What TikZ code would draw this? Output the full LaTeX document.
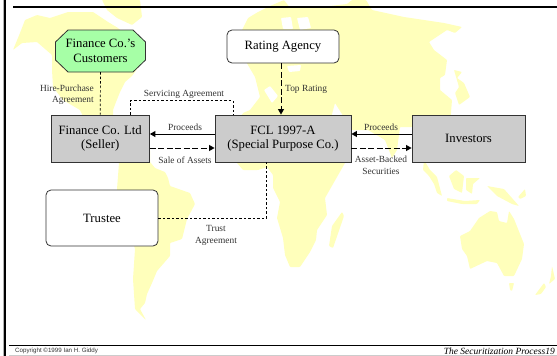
\documentclass[tikz,border=0pt]{standalone}
\usepackage{fontspec}
\setmainfont{Liberation Serif}
\setsansfont{Liberation Sans}
\usepackage{tikz}
\usetikzlibrary{positioning}
\usetikzlibrary{arrows.meta}
\definecolor{landyellow}{HTML}{FFFFBB}
\definecolor{boxgray}{HTML}{CCCCCC}
\definecolor{custgreen}{HTML}{A6FFA6}
\definecolor{edgegray}{HTML}{333333}
\tikzset{
	land/.style={fill=landyellow, draw=none, rounded corners=0.8pt},
	sea/.style={fill=white, draw=none, rounded corners=0.8pt},
	partybox/.style={draw=edgegray, fill=boxgray, line width=0.9pt, minimum height=47pt, align=center, font=\fontsize{12.7}{14.5}\selectfont, inner sep=0pt},
	softbox/.style={draw=edgegray, fill=white, line width=0.8pt, rounded corners=5pt, align=center, font=\fontsize{12.7}{14.5}\selectfont, inner sep=0pt},
	custbox/.style={minimum width=90pt, minimum height=42pt, align=center, font=\fontsize{12.7}{15}\selectfont, inner sep=0pt},
	lbl/.style={font=\fontsize{9.4}{11.5}\selectfont, text=edgegray, align=center, inner sep=0pt},
	paid/.style={-{Triangle[length=5.5pt,width=6pt]}, line width=0.9pt},
	promise/.style={-{Triangle[length=5.5pt,width=6pt]}, line width=0.9pt, dash pattern=on 6pt off 2.5pt},
	tie/.style={line width=0.7pt, dash pattern=on 2.5pt off 2pt},
}
\begin{document}
\begin{tikzpicture}[x=1pt, y=-1pt]
	\useasboundingbox (0, 0) rectangle (557, 356);
	\fill[white] (0, 0) rectangle (557, 356);
	\fill[land] (13,50) -- (20,33) -- (25,20) -- (37,15) -- (50,18) -- (68,12) -- (93,12) -- (108,22) -- (118,28) -- (130,40) -- (146,50) -- (140,65) -- (132,76) -- (125,82) -- (120,92) -- (116,102) -- (113,110) -- (113,125) -- (87,125) -- (80,110) -- (63,100) -- (53,87) -- (52,70) -- (52,55) -- (37,42) -- (22,43) -- cycle;
	\fill[land] (102,0) -- (140,0) -- (142,17) -- (132,25) -- (117,18) -- (107,10) -- cycle;
	\fill[land] (120,150) -- (150,150) -- (150,162) -- (155,168) -- (165,172) -- (168,178) -- (170,186) -- (190,193) -- (195,204) -- (187,219) -- (182,239) -- (170,243) -- (170,256) -- (157,271) -- (152,283) -- (147,294) -- (145,303) -- (140,309) -- (146,320) -- (135,309) -- (133,279) -- (135,249) -- (117,189) -- cycle;
	\fill[land] (242,30) -- (248,18) -- (258,12) -- (270,6) -- (284,0) -- (290,8) -- (330,6) -- (347,4) -- (352,0) -- (366,0) -- (372,10) -- (404,17) -- (444,23) -- (462,27) -- (455,33) -- (447,30) -- (429,42) -- (434,50) -- (447,60) -- (445,75) -- (440,78) -- (440,90) -- (452,100) -- (450,125) -- (412,127) -- (400,127) -- (397,150) -- (392,158) -- (385,140) -- (368,130) -- (352,130) -- (335,103) -- (331,118) -- (350,140) -- (345,163) -- (325,198) -- (327,215) -- (317,230) -- (316,240) -- (310,252) -- (300,267) -- (290,267) -- (285,255) -- (283,238) -- (277,218) -- (280,202) -- (273,188) -- (273,175) -- (267,167) -- (258,170) -- (243,170) -- (237,163) -- (225,140) -- (243,113) -- (250,110) -- (260,97) -- (255,77) -- (245,60) -- cycle;
	\fill[sea] (264,90) -- (270,86) -- (278,96) -- (272,103) -- cycle;
	\fill[sea] (297,18) -- (308,17) -- (311,28) -- (300,30) -- cycle;
	\fill[sea] (281,18) -- (291,17) -- (293,29) -- (283,29) -- cycle;
	\fill[sea] (287,66) -- (301,65) -- (300,71) -- (289,72) -- cycle;
	\fill[land] (454,70) -- (462,72) -- (457,78) -- (464,83) -- (470,97) -- (459,105) -- (455,93) -- (459,87) -- cycle;
	\fill[land] (424,160) -- (430,170) -- (437,177) -- (442,196) -- (437,193) -- (434,184) -- (429,176) -- (423,170) -- cycle;
	\fill[land] (449,176) -- (456,170) -- (464,176) -- (462,193) -- (454,189) -- cycle;
	\fill[land] (466,178) -- (480,178) -- (473,184) -- (472,194) -- (466,190) -- cycle;
	\fill[land] (447,198) -- (465,201) -- (480,200) -- (477,204) -- (462,204) -- (447,201) -- cycle;
	\fill[land] (487,186) -- (504,189) -- (519,206) -- (512,204) -- (497,196) -- cycle;
	\fill[land] (518,197) -- (525,189) -- (526,196) -- (520,199) -- cycle;
	\fill[land] (342,212) -- (344,216) -- (333,248) -- (329,246) -- (332,226) -- cycle;
	\fill[land] (460,236) -- (470,231) -- (479,218) -- (490,211) -- (497,212) -- (499,221) -- (507,223) -- (509,211) -- (514,219) -- (524,244) -- (522,259) -- (514,276) -- (504,276) -- (497,263) -- (487,261) -- (470,269) -- (467,256) -- (462,249) -- cycle;
	\fill[land] (509,283) -- (514,283) -- (512,291) -- (510,290) -- cycle;
	\fill[land] (552,266) -- (555,279) -- (549,284) -- (551,276) -- cycle;
	\fill[land] (535,295) -- (544,283) -- (546,287) -- (541,294) -- cycle;
	\draw[line width=2pt] (5, 0) -- (5, 356);
	\draw[gray!60, line width=1pt] (3.5, 0) -- (3.5, 356);
	\draw[line width=2pt] (13, 6.5) -- (557, 6.5);
	\draw[line width=0.9pt] (9, 345) -- (557, 345);
	\draw[gray!40, line width=0.8pt] (9, 355) -- (557, 355);

	\filldraw[fill=custgreen, draw=edgegray, line width=0.8pt] (68, 30) -- (133, 30) -- (145.5, 42) -- (145.5, 60) -- (133, 72) -- (68, 72) -- (55.5, 60) -- (55.5, 42) -- cycle;
	\node[custbox] (customers) at (100.5, 51) {Finance Co.'s\\Customers};
	\node[softbox, minimum width=112pt, minimum height=33pt] (rating) at (283, 46.5) {Rating Agency};
	\node[partybox, minimum width=98.5pt] (seller) at (100.2, 138.5) {Finance Co. Ltd\\(Seller)};
	\node[partybox, minimum width=136pt] (spv) at (283, 138.5) {FCL 1997-A\\(Special Purpose Co.)};
	\node[partybox, minimum width=113pt] (investors) at (468.5, 138.5) {Investors};
	\node[softbox, minimum width=112pt, minimum height=56pt] (trustee) at (102, 218) {Trustee};

	\draw[tie] (customers.south) -- (seller.north);
	\draw[tie, line width=0.6pt] ([xshift=30pt]seller.north) -- ++(0, -14) -| ([xshift=-50pt]spv.north);
	\draw[promise] ([xshift=-2pt]rating.south) -- ([xshift=-2pt]spv.north);
	\draw[paid] ([yshift=4.5pt]spv.west) -- ([yshift=4.5pt]seller.east);
	\draw[promise] ([yshift=-9.5pt]seller.east) -- ([yshift=-9.5pt]spv.west);
	\draw[paid] ([yshift=4.5pt]investors.west) -- ([yshift=4.5pt]spv.east);
	\draw[promise] ([yshift=-9.5pt]spv.east) -- ([yshift=-9.5pt]investors.west);
	\draw[tie] (trustee.east) -| ([xshift=-16.5pt]spv.south);

	\node[lbl, align=right, left] (hirelabel) at (94, 95) {Hire-Purchase\\Agreement};
	\node[lbl] (servlabel) at (184, 94) {Servicing Agreement};
	\node[lbl] (proclabela) at (185, 127) {Proceeds};
	\node[lbl] (salelabel) at (185, 160) {Sale of Assets};
	\node[lbl, right] (toplabel) at (285, 89) {Top Rating};
	\node[lbl] (proclabelb) at (381, 127) {Proceeds};
	\node[lbl] (abslabel) at (381, 165.5) {Asset-Backed\\Securities};
	\node[lbl] (trustlabel) at (216, 235.5) {Trust\\Agreement};
	\node[right, inner sep=0pt, font=\sffamily\fontsize{6.2}{7}\selectfont, text=edgegray] (copyright) at (15, 350.5) {Copyright ©1999 Ian H. Giddy};
	\node[left, inner sep=0pt, font=\itshape\fontsize{9.5}{11}\selectfont] (slidetitle) at (555, 351) {The Securitization Process19};
\end{tikzpicture}
\end{document}
